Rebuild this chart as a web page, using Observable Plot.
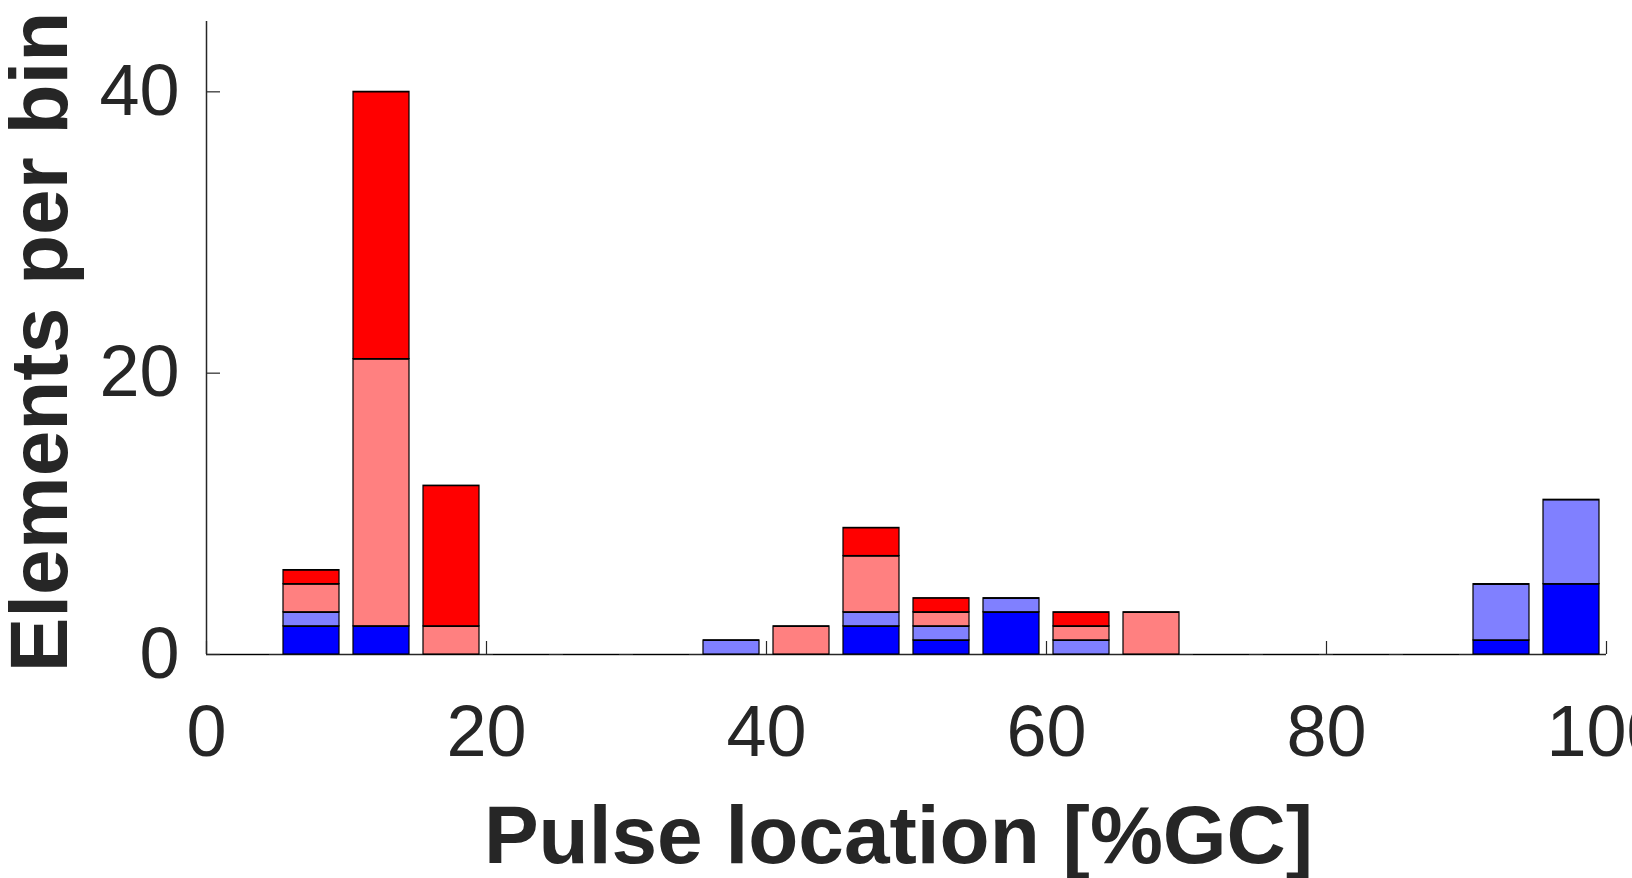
<!DOCTYPE html>
<html>
<head>
<meta charset="utf-8">
<script src="https://cdn.jsdelivr.net/npm/d3@7"></script>
<script src="https://cdn.jsdelivr.net/npm/@observablehq/plot@0.6"></script>
<style>
  html, body { margin: 0; padding: 0; background: #fff; overflow: hidden; }
</style>
</head>
<body>
<div id="chart"></div>
<script>
// Histogram bins of pulse location (%GC), 5 wide from 0 to 100
const binStarts = [0, 5, 10, 15, 20, 25, 30, 35, 40, 45, 50, 55, 60, 65, 70, 75, 80, 85, 90, 95];
const binWidth = 5;

// Stacked series, bottom to top
const seriesNames = ["blue", "light blue", "light red", "red"];
const seriesColors = ["#0000ff", "#8080ff", "#ff8080", "#ff0000"];

const blueCounts      = [0, 2,  2,  0, 0, 0, 0, 0, 0, 2, 1, 3, 0, 0, 0, 0, 0, 0, 1, 5];
const lightBlueCounts = [0, 1,  0,  0, 0, 0, 0, 1, 0, 1, 1, 1, 1, 0, 0, 0, 0, 0, 4, 6];
const lightRedCounts  = [0, 2, 19,  2, 0, 0, 0, 0, 2, 4, 1, 0, 1, 3, 0, 0, 0, 0, 0, 0];
const redCounts       = [0, 1, 19, 10, 0, 0, 0, 0, 0, 2, 1, 0, 1, 0, 0, 0, 0, 0, 0, 0];

const xTicks = [0, 20, 40, 60, 80, 100];
const yTicks = [0, 20, 40];

const xLabel = "Pulse location [%GC]";
const yLabel = "Elements per bin";

// Long-format table for stacking
const countsBySeries = [blueCounts, lightBlueCounts, lightRedCounts, redCounts];
const rows = [];
seriesNames.forEach((name, s) => {
  binStarts.forEach((b, i) => {
    rows.push({series: name, x1: b, x2: b + binWidth, count: countsBySeries[s][i]});
  });
});

const ink = "#262626";
const font = "Liberation Sans, Arial, Helvetica, sans-serif";
const barInset = 7;

const chart = Plot.plot({
  width: 1632,
  height: 878,
  marginLeft: 206,
  marginRight: 26,
  marginTop: 21,
  marginBottom: 224,
  style: {fontFamily: font, background: "#fff", overflow: "hidden"},
  x: {domain: [0, 100]},
  y: {domain: [0, 45]},
  color: {domain: seriesNames, range: seriesColors},
  marks: [
    // axis lines
    Plot.ruleX([0], {stroke: ink, strokeWidth: 1.5}),
    Plot.ruleY([0], {stroke: ink, strokeWidth: 1.5}),
    // stacked bars
    Plot.rectY(rows, {
      x1: "x1", x2: "x2", y: "count", fill: "series",
      stroke: "black", strokeWidth: 1.2,
      insetLeft: barInset, insetRight: barInset, order: null
    }),
    // segment tops (keeps empty segments visible as edges)
    Plot.ruleY(rows, Plot.stackY2({
      x1: "x1", x2: "x2", y: "count", z: "series",
      stroke: "black", strokeWidth: 1.2,
      insetLeft: barInset, insetRight: barInset, order: null
    })),
    // axes with inward ticks
    Plot.axisY({
      ticks: yTicks, label: null, tickSize: -14, tickPadding: 41,
      fontSize: 72, fill: ink, stroke: ink, strokeWidth: 1.2
    }),
    Plot.axisX({
      ticks: xTicks, label: null, tickSize: -13, tickPadding: 63,
      fontSize: 72, fill: ink, stroke: ink, strokeWidth: 1.2
    }),
    // axis titles
    Plot.text([yLabel], {
      text: d => d, frameAnchor: "left", rotate: -90, lineAnchor: "top",
      textAnchor: "middle",
      dx: -198, dy: 4, fontSize: 82, fontWeight: "bold", fill: ink
    }),
    Plot.text([xLabel], {
      text: d => d, frameAnchor: "bottom", lineAnchor: "bottom",
      dx: -8, dy: 208, fontSize: 82, fontWeight: "bold", fill: ink
    })
  ]
});

document.getElementById("chart").appendChild(chart);
</script>
</body>
</html>
